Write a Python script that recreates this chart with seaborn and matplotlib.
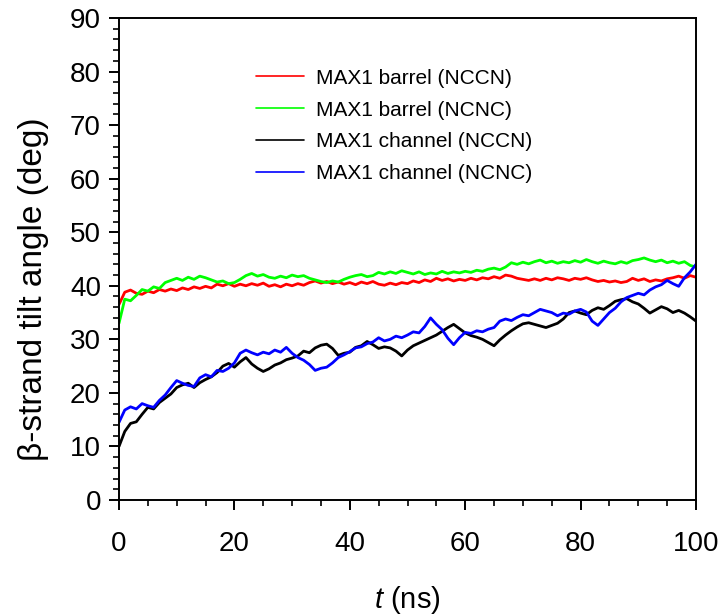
import numpy as np
import pandas as pd
import matplotlib
matplotlib.use("Agg")
import matplotlib.pyplot as plt
import seaborn as sns
from matplotlib.lines import Line2D
from matplotlib.ticker import MultipleLocator

# time axis (ns), one reading per ns
t_ns = list(range(0, 101))

barrel_nccn = [36.5, 38.8, 39.2, 38.6, 38.4, 39.0, 38.7, 39.3, 39.0, 39.4,
               39.1, 39.6, 39.3, 39.8, 39.5, 39.9, 39.6, 40.3, 40.0, 40.4,
               39.9, 40.3, 40.0, 40.4, 40.1, 40.5, 39.9, 40.2, 39.8, 40.3,
               40.0, 40.4, 40.1, 40.6, 40.9, 40.5, 40.8, 40.4, 40.7, 40.3,
               40.6, 40.2, 40.7, 40.4, 40.8, 40.3, 40.1, 40.5, 40.2, 40.6,
               40.4, 40.9, 40.6, 41.1, 40.8, 41.4, 41.0, 41.3, 40.9, 41.2,
               41.0, 41.4, 41.1, 41.5, 41.3, 41.7, 41.4, 42.0, 41.8, 41.4,
               41.2, 41.0, 41.3, 41.0, 41.4, 41.1, 41.5, 41.3, 41.0, 41.4,
               41.2, 41.5, 41.1, 40.8, 41.0, 40.7, 40.9, 40.6, 40.8, 41.4,
               41.0, 41.3, 40.8, 41.1, 40.9, 41.3, 41.5, 41.8, 41.4, 41.9,
               41.6]

barrel_ncnc = [33.0, 37.5, 37.2, 38.2, 39.3, 39.0, 39.8, 39.5, 40.6, 41.0,
               41.4, 41.0, 41.6, 41.2, 41.8, 41.5, 41.1, 40.7, 40.9, 40.4,
               40.6, 41.2, 41.9, 42.3, 41.8, 42.1, 41.6, 41.4, 41.8, 41.5,
               42.0, 41.7, 41.9, 41.4, 41.1, 40.8, 40.6, 40.9, 40.7, 41.2,
               41.6, 41.9, 42.1, 41.7, 41.9, 42.5, 42.2, 42.6, 42.3, 42.8,
               42.5, 42.2, 42.6, 42.1, 42.4, 42.2, 42.7, 42.3, 42.6, 42.4,
               42.7, 42.5, 42.9, 42.7, 43.1, 43.3, 43.0, 43.5, 44.3, 44.0,
               44.4, 44.1, 44.5, 44.8, 44.3, 44.6, 44.2, 44.5, 44.3, 44.7,
               44.4, 44.9, 44.5, 44.2, 44.6, 44.3, 44.1, 44.5, 44.2, 44.7,
               44.9, 45.2, 44.8, 44.5, 44.8, 44.3, 44.6, 44.2, 44.5, 43.8,
               43.5]

channel_nccn = [10.0, 12.8, 14.3, 14.6, 16.0, 17.3, 17.0, 18.2, 19.0, 19.8,
                21.0, 21.5, 21.8, 21.0, 21.9, 22.5, 23.0, 23.8, 25.0, 25.5,
                24.8, 25.8, 26.6, 25.4, 24.6, 24.0, 24.5, 25.2, 25.6, 26.2,
                26.5, 26.9, 27.8, 27.5, 28.4, 28.9, 29.1, 28.3, 27.0, 27.4,
                27.6, 28.5, 28.8, 29.6, 29.0, 28.3, 28.6, 28.4, 27.8, 26.9,
                28.0, 28.8, 29.3, 29.8, 30.3, 30.8, 31.5, 32.2, 32.8, 32.0,
                31.2, 30.7, 30.4, 30.0, 29.4, 28.8, 29.9, 30.8, 31.6, 32.3,
                32.9, 33.1, 32.8, 32.5, 32.2, 32.6, 33.0, 33.8, 35.0, 35.3,
                34.9, 34.6, 35.4, 35.9, 35.6, 36.3, 37.1, 37.4, 37.6, 37.0,
                36.6, 35.8, 34.9, 35.5, 36.1, 35.7, 35.0, 35.4, 34.9, 34.2,
                33.4]

channel_ncnc = [14.5, 16.8, 17.4, 17.0, 18.0, 17.6, 17.3, 18.6, 19.6, 21.0,
                22.3, 21.8, 21.4, 21.2, 22.8, 23.4, 23.0, 24.2, 24.0, 24.6,
                25.6, 27.4, 28.0, 27.5, 27.1, 27.6, 27.3, 28.0, 27.6, 28.5,
                27.4, 26.6, 26.1, 25.3, 24.2, 24.6, 24.8, 25.6, 26.6, 27.1,
                27.7, 28.4, 28.6, 29.2, 29.5, 30.3, 29.7, 30.0, 30.6, 30.3,
                30.8, 31.4, 31.2, 32.4, 34.0, 32.8, 31.8, 30.2, 29.0, 30.3,
                31.3, 31.1, 31.6, 31.4, 31.9, 32.2, 33.4, 33.8, 33.5, 34.1,
                34.6, 34.4, 35.0, 35.6, 35.3, 35.0, 34.4, 34.9, 34.7, 35.3,
                35.6, 35.1, 33.4, 32.6, 33.8, 35.0, 35.8, 37.0, 37.8, 38.2,
                38.6, 38.3, 39.2, 39.8, 40.2, 41.0, 40.4, 39.9, 41.5, 42.6,
                44.0]

labels = ["MAX1 barrel (NCCN)", "MAX1 barrel (NCNC)",
          "MAX1 channel (NCCN)", "MAX1 channel (NCNC)"]
colors = ["#ff0000", "#00ff00", "#000000", "#0000ff"]

df = pd.DataFrame({
    "t": t_ns * 4,
    "angle": barrel_nccn + barrel_ncnc + channel_nccn + channel_ncnc,
    "series": [lab for lab in labels for _ in t_ns],
})

sns.set_style("ticks")
plt.rcParams["font.family"] = ["Liberation Sans", "DejaVu Sans"]
plt.rcParams["text.color"] = "black"
plt.rcParams["axes.labelcolor"] = "black"
plt.rcParams["mathtext.fontset"] = "custom"
plt.rcParams["mathtext.it"] = "Liberation Sans:italic"
plt.rcParams["mathtext.rm"] = "Liberation Sans"

fig = plt.figure(figsize=(7.23, 6.15), dpi=100)
ax = fig.add_axes([119 / 723, 115 / 615, 577 / 723, 482 / 615])

sns.lineplot(data=df, x="t", y="angle", hue="series", hue_order=labels,
             palette=colors, linewidth=2.0, legend=False, ax=ax)

ax.set_xlim(0, 100)
ax.set_ylim(0, 90)
ax.xaxis.set_major_locator(MultipleLocator(20))
ax.xaxis.set_minor_locator(MultipleLocator(5))
ax.yaxis.set_major_locator(MultipleLocator(10))
ax.yaxis.set_minor_locator(MultipleLocator(2))
ax.tick_params(which="major", direction="out", length=7, width=1.4,
               labelsize=20, colors="black")
ax.tick_params(which="minor", direction="out", length=4.5, width=1.4)
ax.tick_params(axis="x", which="major", pad=15)
ax.tick_params(axis="y", which="major", pad=6)
for sp in ax.spines.values():
    sp.set_linewidth(1.4)
    sp.set_color("black")

ax.set_xlabel(r"$\mathit{t}$ (ns)", fontsize=21, labelpad=20)
ax.set_ylabel("β-strand tilt angle (deg)", fontsize=24)
ax.yaxis.set_label_coords(-0.122, 0.438)

handles = [Line2D([0], [0], color=c, lw=1.2) for c in colors]
leg = ax.legend(handles, labels, loc="upper left", bbox_to_anchor=(0.237, 0.895),
                frameon=False, fontsize=15, handlelength=2.3, handletextpad=0.6,
                labelspacing=0.62, borderpad=0, borderaxespad=0)
for txt in leg.get_texts():
    txt.set_color("black")

fig.savefig("out.png", dpi=100)
